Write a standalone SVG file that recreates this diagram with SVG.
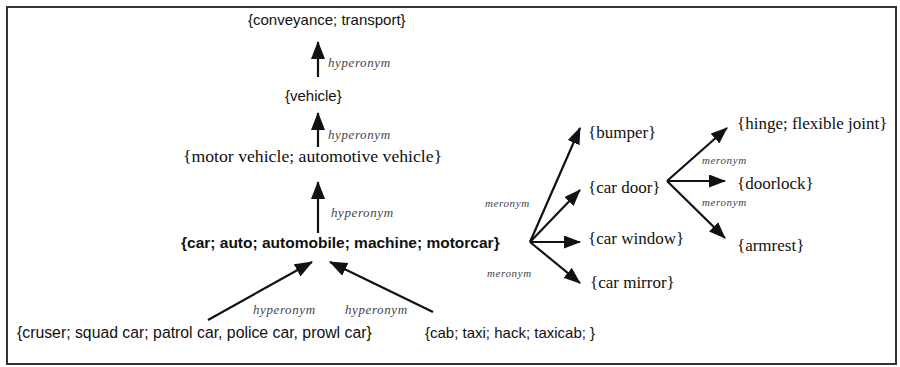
<svg xmlns="http://www.w3.org/2000/svg" width="900" height="367" viewBox="0 0 900 367">
<style>
.sans{font-family:"Liberation Sans",Arial,sans-serif;font-size:15px;fill:#111}
.bold{font-weight:bold;font-size:15.5px}
.serif{font-family:"Liberation Serif","Times New Roman",serif;font-size:17px;fill:#111}
.lbl{font-family:"Liberation Serif","Times New Roman",serif;font-style:italic;font-size:13px;fill:#444;letter-spacing:0.6px}
.mlbl{font-family:"Liberation Serif","Times New Roman",serif;font-style:italic;font-size:11px;fill:#444;letter-spacing:0.6px}
.edge{stroke:#111;stroke-width:2.2;fill:none}
.big{marker-end:url(#ahBig)}
.sm{marker-end:url(#ahSm)}
</style>
<defs>
<marker id="ahBig" viewBox="0 0 18 14" refX="17" refY="7" markerWidth="18" markerHeight="14" markerUnits="userSpaceOnUse" orient="auto"><path d="M0,0 L18,7 L0,14 z" fill="#111"/></marker>
<marker id="ahSm" viewBox="0 0 17 13" refX="16" refY="6.5" markerWidth="17" markerHeight="13" markerUnits="userSpaceOnUse" orient="auto"><path d="M0,0 L17,6.5 L0,13 z" fill="#111"/></marker>
</defs>
<rect x="7" y="7" width="889" height="357" fill="#fff" stroke="#333" stroke-width="2"/>
<g id="connectors">
<line class="edge big" x1="318" y1="77" x2="318" y2="42"/>
<line class="edge big" x1="318" y1="147" x2="318" y2="113"/>
<line class="edge big" x1="318" y1="233" x2="318" y2="182"/>
<line class="edge big" x1="208" y1="320" x2="312" y2="262"/>
<line class="edge big" x1="433" y1="312" x2="330" y2="262"/>
<line class="edge sm" x1="530" y1="242" x2="580" y2="128"/>
<line class="edge sm" x1="530" y1="242" x2="580" y2="190"/>
<line class="edge sm" x1="530" y1="242" x2="580" y2="242"/>
<line class="edge sm" x1="530" y1="242" x2="580" y2="283"/>
<line class="edge sm" x1="667" y1="181" x2="727" y2="128"/>
<line class="edge sm" x1="667" y1="181" x2="725" y2="181"/>
<line class="edge sm" x1="667" y1="181" x2="725" y2="238"/>
<text class="lbl" x="328" y="67">hyperonym</text>
<text class="lbl" x="328" y="139">hyperonym</text>
<text class="lbl" x="331" y="217">hyperonym</text>
<text class="lbl" x="253" y="314">hyperonym</text>
<text class="lbl" x="345" y="314">hyperonym</text>
<text class="mlbl" x="485" y="207">meronym</text>
<text class="mlbl" x="487" y="277">meronym</text>
<text class="mlbl" x="702" y="164">meronym</text>
<text class="mlbl" x="702" y="206">meronym</text>
</g>
<g id="conveyance"><text class="sans" x="248" y="25">{conveyance; transport}</text></g>
<g id="vehicle"><text class="sans" x="285" y="101">{vehicle}</text></g>
<g id="motor-vehicle"><text class="serif" x="183" y="162" style="font-size:17.7px">{motor vehicle; automotive vehicle}</text></g>
<g id="car"><text class="sans bold" x="181" y="248">{car; auto; automobile; machine; motorcar}</text></g>
<g id="cruiser"><text class="sans" x="17" y="338" style="font-size:15.8px">{cruser; squad car; patrol car, police car, prowl car}</text></g>
<g id="cab"><text class="sans" x="425" y="338">{cab; taxi; hack; taxicab; }</text></g>
<g id="bumper"><text class="serif" x="588" y="138">{bumper}</text></g>
<g id="car-door"><text class="serif" x="588" y="193">{car door}</text></g>
<g id="car-window"><text class="serif" x="588" y="244">{car window}</text></g>
<g id="car-mirror"><text class="serif" x="590" y="288">{car mirror}</text></g>
<g id="hinge"><text class="serif" x="737" y="129">{hinge; flexible joint}</text></g>
<g id="doorlock"><text class="serif" x="737" y="189">{doorlock}</text></g>
<g id="armrest"><text class="serif" x="737" y="251">{armrest}</text></g>
</svg>
